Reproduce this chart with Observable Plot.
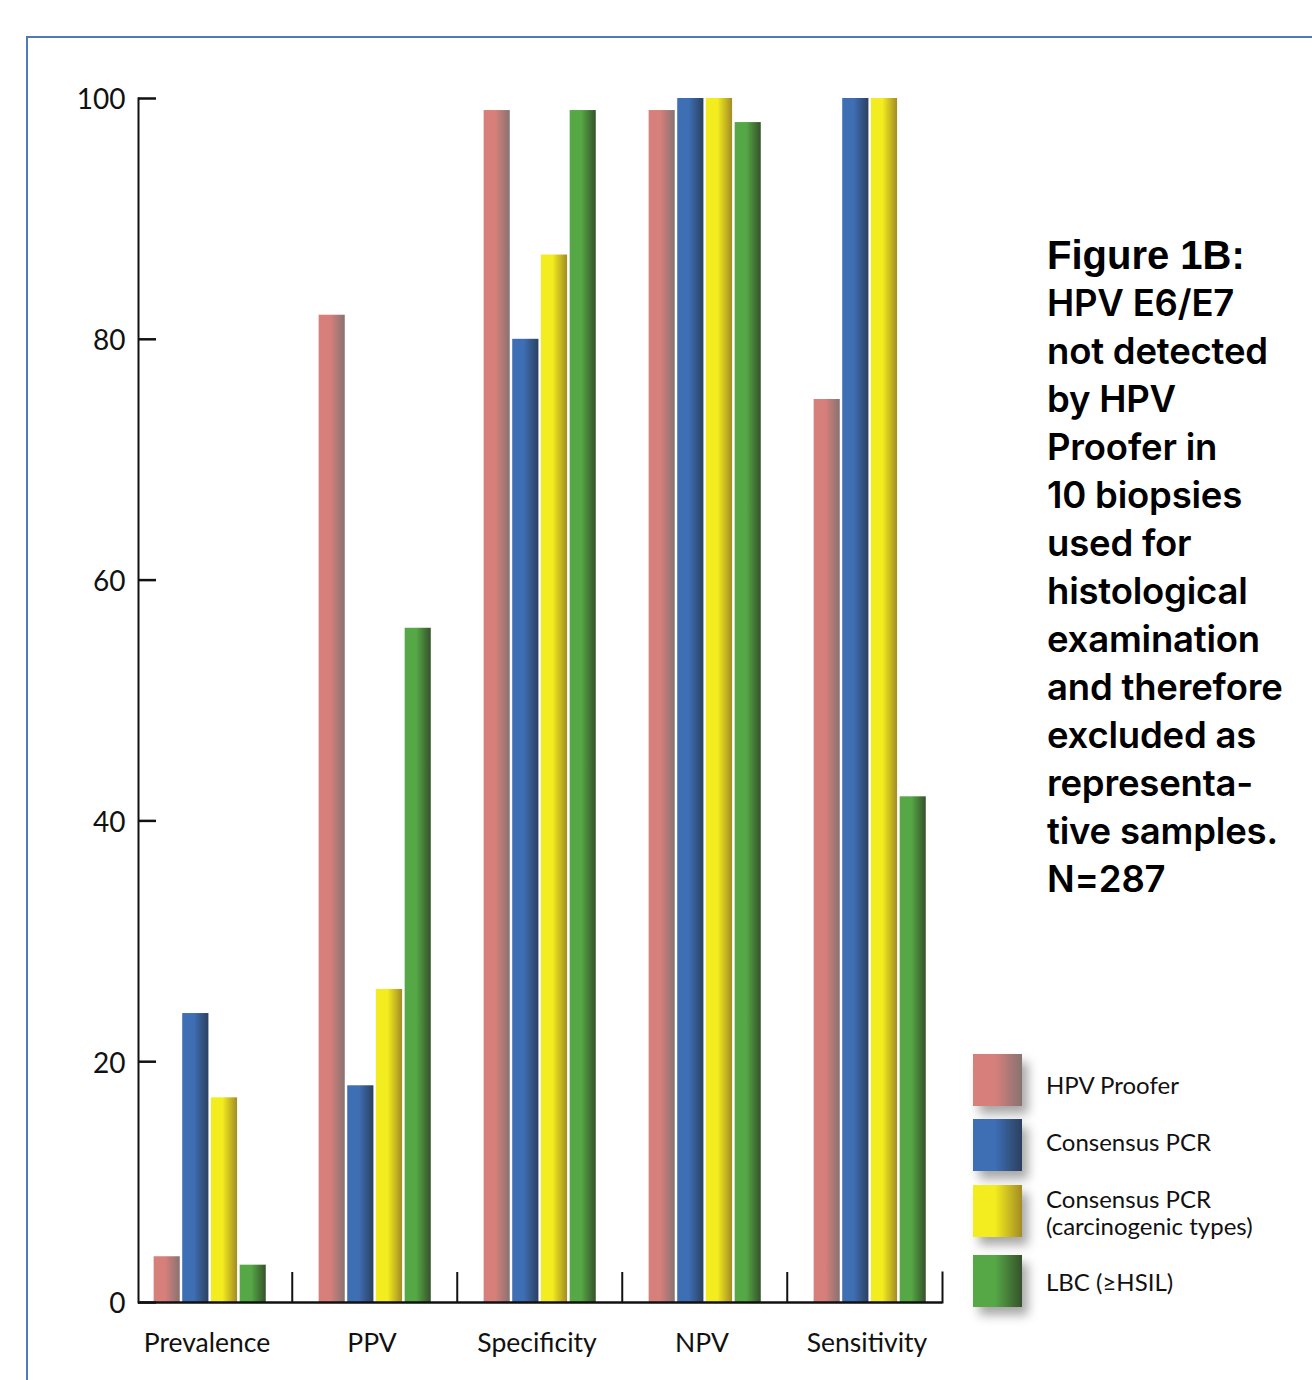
<!DOCTYPE html>
<html>
<head>
<meta charset="utf-8">
<script src="https://cdn.jsdelivr.net/npm/d3@7"></script>
<script src="https://cdn.jsdelivr.net/npm/@observablehq/plot@0.6"></script>
<style>
  html, body { margin: 0; padding: 0; background: #fff; }
  #page { position: relative; width: 1312px; height: 1380px; overflow: hidden; }
  #border { position: absolute; left: 26px; top: 36px; width: 1400px; height: 1400px;
            border-left: 2px solid #5079bd; border-top: 2px solid #5079bd; }
  #chart { position: absolute; left: 0; top: 0; }
  #title { position: absolute; left: 1047px; top: 231px; font-family: Inter, "Liberation Sans", Arial, sans-serif;
           font-weight: 600; font-size: 36.5px; line-height: 48px; color: #000; white-space: nowrap; letter-spacing: -0.2px; }
  #title .head { font-family: "Liberation Sans", Arial, sans-serif; font-size: 40px; font-weight: bold; letter-spacing: 0; }
  #legend { position: absolute; left: 973px; top: 1054px; font-family: Lato, sans-serif; font-size: 24px; color: #111; }
  .item { position: absolute; left: 0; }
  .sw { position: absolute; left: 0; top: 0; width: 49px; height: 52px; box-shadow: 6px 8px 10px rgba(0,0,0,0.35); }
  .lab { position: absolute; left: 73px; white-space: nowrap; line-height: 27px; }
</style>
</head>
<body>
<svg width="0" height="0" style="position:absolute">
  <defs id="grads"></defs>
</svg>
<div id="page">
  <div id="border"></div>
  <div id="chart"></div>
  <div id="title"></div>
  <div id="legend"></div>
</div>
<script>
// ---- data ----
const categories = ["Prevalence", "PPV", "Specificity", "NPV", "Sensitivity"];
const seriesNames = ["HPV Proofer", "Consensus PCR", "Consensus PCR\n(carcinogenic types)", "LBC (≥HSIL)"];
const hpvProofer       = [3.8, 82, 99, 99, 75];
const consensusPCR     = [24, 18, 80, 100, 100];
const consensusPCRCarc = [17, 26, 87, 100, 100];
const lbc              = [3.1, 56, 99, 98, 42];
const yTicks = [0, 20, 40, 60, 80, 100];
const titleLines = ["Figure 1B:", "HPV E6/E7", "not detected", "by HPV", "Proofer in", "10 biopsies", "used for",
  "histological", "examination", "and therefore", "excluded as", "representa-", "tive samples.", "N=287"];
const baseColors = ["#d77f7a", "#3e6eb4", "#f3ec1e", "#55a845"];
const darkColors = ["#877372", "#2b405f", "#a38b24", "#36512b"];

const seriesValues = [hpvProofer, consensusPCR, consensusPCRCarc, lbc];
const rows = [];
seriesValues.forEach((vals, j) => vals.forEach((v, i) => rows.push({category: categories[i], series: j, value: v})));

// gradients
const defs = document.getElementById("grads");
baseColors.forEach((c, j) => {
  defs.insertAdjacentHTML("beforeend",
    `<linearGradient id="g${j}" x1="0" x2="1" y1="0" y2="0">
       <stop offset="0" stop-color="#e6e6e6"/>
       <stop offset="0.03" stop-color="${c}"/>
       <stop offset="0.45" stop-color="${c}"/>
       <stop offset="1" stop-color="${darkColors[j]}"/>
     </linearGradient>`);
});

// layout
const W = 1312, H = 1380;
const mL = 138, mR = 370, mT = 98, mB = 78;
const xRange = [125.25, 952.75];
const step = (xRange[1] - xRange[0]) / categories.length;
const barW = 27, gap = 1.67;
const outer = (step - (4 * barW + 3 * gap)) / 2;
const innerH = H - mT - mB;

const barMarks = seriesValues.map((_, j) => {
  const insetLeft = outer + j * (barW + gap);
  const insetRight = step - insetLeft - barW;
  return Plot.barY(rows.filter(d => d.series === j), {
    x: "category", y: "value", fill: `url(#g${j})`, insetLeft, insetRight
  });
});

const chart = Plot.plot({
  width: W, height: H,
  marginLeft: mL, marginRight: mR, marginTop: mT, marginBottom: mB,
  style: {fontFamily: "Lato, sans-serif", fontSize: "26px", background: "transparent", color: "#111"},
  x: {type: "band", domain: categories, range: xRange, padding: 0, label: null},
  y: {domain: [0, 100], label: null},
  marks: [
    ...barMarks,
    Plot.frame({anchor: "left", stroke: "#111", strokeWidth: 2}),
    Plot.ruleY([0], {stroke: "#111", strokeWidth: 2.5}),
    Plot.axisY({ticks: yTicks, tickSize: 18, dx: 18, text: null, stroke: "#111", strokeWidth: 2.5}),
    Plot.axisY({ticks: yTicks, tickSize: 0, tickPadding: 13, dy: 2, fontSize: 28, label: null}),
    Plot.axisX({ticks: categories.slice(1), tickSize: 30, dy: -30, dx: -step / 2, text: null, stroke: "#111", strokeWidth: 2}),
    Plot.frame({anchor: "right", insetTop: innerH - 30, stroke: "#111", strokeWidth: 2}),
    Plot.axisX({tickSize: 0, tickPadding: 31, dx: -3, fontSize: 26.5, label: null})
  ]
});
document.getElementById("chart").appendChild(chart);

// title
document.getElementById("title").innerHTML = titleLines
  .map((t, i) => `<div class="${i === 0 ? "head" : ""}">${t}</div>`).join("");

// legend
const legendTops = [0, 65, 131, 201];
const labelTops = [17, 9, 0, 13];
const lg = document.getElementById("legend");
seriesNames.forEach((name, j) => {
  const lines = name.split("\n");
  lg.insertAdjacentHTML("beforeend",
    `<div class="item" style="top:${legendTops[j]}px">
       <div class="sw" style="background:linear-gradient(to right, ${baseColors[j]} 0%, ${baseColors[j]} 45%, ${darkColors[j]} 100%)"></div>
       <div class="lab" style="top:${labelTops[j]}px">${lines.join("<br>")}</div>
     </div>`);
});
</script>
</body>
</html>
